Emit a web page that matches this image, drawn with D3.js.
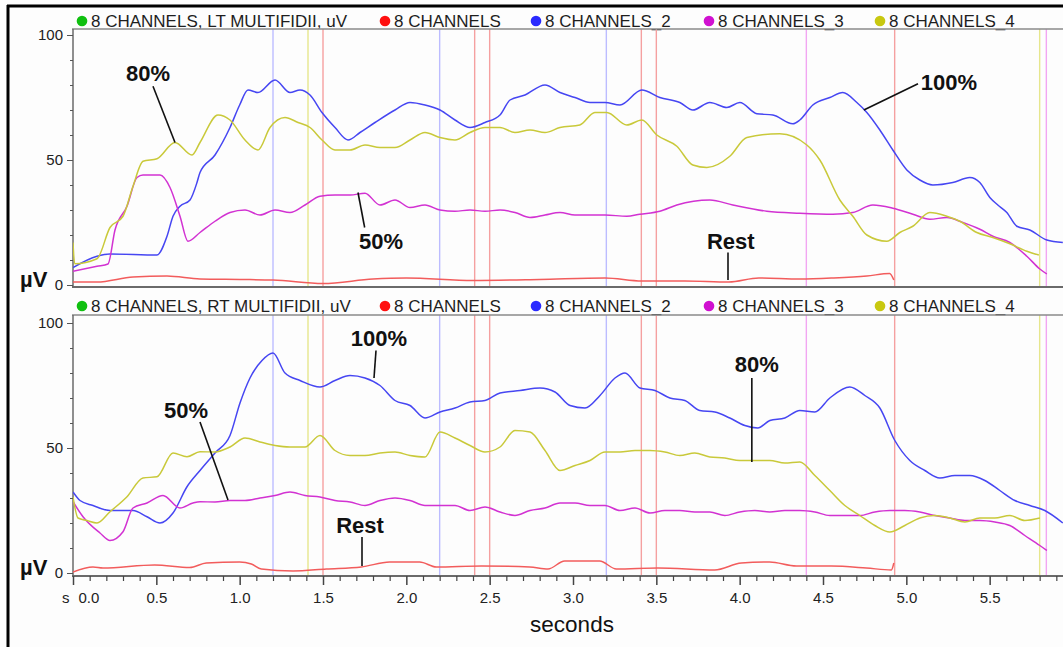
<!DOCTYPE html>
<html><head><meta charset="utf-8">
<script src="https://cdn.jsdelivr.net/npm/d3@7"></script>
<style>body{margin:0;background:#fff}svg{display:block}</style>
</head><body><svg id="c" width="1063" height="647"></svg>
<script>
// ---------------- DATA ----------------
const xTicks = [0, 0.5, 1.0, 1.5, 2.0, 2.5, 3.0, 3.5, 4.0, 4.5, 5.0, 5.5];
const yTicks = [0, 50, 100];
const legendTop = ["8 CHANNELS, LT MULTIFIDII, uV", "8 CHANNELS", "8 CHANNELS_2", "8 CHANNELS_3", "8 CHANNELS_4"];
const legendBottom = ["8 CHANNELS, RT MULTIFIDII, uV", "8 CHANNELS", "8 CHANNELS_2", "8 CHANNELS_3", "8 CHANNELS_4"];

// event markers (seconds)
const markersBlue = [1.2, 2.2, 3.2];
const markersYellow = [1.41, 5.8];
const markersRed = [1.5, 2.41, 2.5, 3.41, 3.5, 4.93];
const markersPink = [4.4, 5.84];

// LT multifidii  [seconds, uV]
const ltRed = [[0,1.2],[0.144,1.2],[0.36,3.2],[0.564,3.6],[0.762,2.4],[1.0,2.2],[1.2,2],[1.5,0.6],[1.8,2.4],[2.0,2.8],[2.4,1.8],[2.8,2.2],[3.192,2.8],[3.413,1.6],[3.671,1.6],[3.935,1.2],[4.115,2.8],[4.361,2.4],[4.559,2.8],[4.763,3.6],[4.9,4.6],[4.925,2.0]];
const ltBlue = [[0,7],[0.144,11.5],[0.222,12.4],[0.504,12],[0.564,19.5],[0.6,27.5],[0.642,31.5],[0.702,34],[0.744,41],[0.762,45],[0.852,52],[0.942,63],[1.0,72],[1.05,78],[1.11,77],[1.212,82],[1.302,77],[1.362,78],[1.422,76],[1.494,69],[1.572,63],[1.65,58],[1.722,61],[1.812,65],[1.932,70],[2.022,73],[2.112,72],[2.202,70],[2.292,66],[2.382,63],[2.472,65],[2.562,68],[2.622,74],[2.712,76],[2.832,80],[2.922,77],[3.012,75],[3.102,73],[3.192,73],[3.282,72],[3.413,78],[3.521,75],[3.641,73],[3.719,70],[3.821,73],[3.923,71],[4.001,73],[4.103,68.5],[4.199,68],[4.319,64.5],[4.361,66],[4.439,72],[4.541,75],[4.619,77],[4.703,73],[4.763,69],[4.841,62],[4.919,54],[5.003,46],[5.081,42],[5.159,40],[5.279,41],[5.381,43],[5.441,41],[5.501,35],[5.549,32],[5.603,29],[5.663,23.5],[5.741,22],[5.843,18],[5.939,17]];
const ltMagenta = [[0,5.5],[0.144,7.5],[0.21,8.4],[0.252,22],[0.324,31.5],[0.384,43],[0.42,44],[0.522,44],[0.582,39],[0.642,27.5],[0.69,17.5],[0.762,21],[0.852,25.5],[0.942,29],[1.032,30],[1.122,28],[1.212,30],[1.302,29],[1.392,32],[1.482,35.5],[1.572,36],[1.662,36],[1.752,36.7],[1.842,32],[1.932,34],[2.022,31],[2.112,32],[2.202,30],[2.292,29.5],[2.382,30],[2.472,29.5],[2.562,30],[2.652,29],[2.742,27],[2.832,28],[2.922,29],[3.012,28],[3.102,28],[3.192,28],[3.323,27.5],[3.401,28.3],[3.521,29.5],[3.623,32],[3.821,34],[3.959,32],[4.163,29.5],[4.361,28.7],[4.559,28.3],[4.679,29],[4.799,32],[4.919,30.7],[5.039,28.3],[5.141,26.3],[5.243,27],[5.339,25],[5.441,22.3],[5.519,19.5],[5.621,17],[5.723,11.5],[5.801,6.4],[5.843,4.4]];
const ltYellow = [[0,17],[0.01,8.5],[0.144,10.5],[0.222,23],[0.3,27.5],[0.36,39.5],[0.42,49.5],[0.504,50.5],[0.612,57],[0.714,52],[0.762,57],[0.87,68],[0.942,66],[1.032,58],[1.11,54],[1.182,63],[1.272,67],[1.35,65],[1.422,63],[1.494,58],[1.572,54],[1.662,54],[1.752,56],[1.842,55],[1.932,55],[2.022,58],[2.112,61],[2.202,59],[2.292,58],[2.382,61],[2.472,63],[2.562,63],[2.652,61],[2.742,62],[2.832,61],[2.922,63],[3.041,64],[3.131,69],[3.203,69],[3.323,64],[3.413,66],[3.503,60],[3.623,55.5],[3.719,48],[3.803,47],[3.941,51.5],[4.043,59],[4.241,60.5],[4.403,56],[4.481,50],[4.601,34],[4.679,27.5],[4.763,20],[4.883,17.5],[4.961,21],[5.039,23.5],[5.141,29],[5.243,27.5],[5.321,25.5],[5.423,21],[5.519,19],[5.621,16.5],[5.723,13.5],[5.795,12]];

// RT multifidii  [seconds, uV]
const rtRed = [[0,0.4],[0.12,2.4],[0.18,2],[0.49,3.2],[0.7,2.2],[0.8,4],[1.0,4.4],[1.07,3.6],[1.13,1.6],[1.32,0.8],[1.52,1.6],[1.73,2.4],[1.9,4.4],[2.08,4.4],[2.18,2.4],[2.45,2.8],[2.74,2.4],[2.85,1.6],[2.95,4.8],[3.16,4.8],[3.26,1.6],[3.51,2],[3.85,1.2],[4.01,4],[4.18,4.4],[4.34,2.8],[4.55,2.8],[4.76,2],[4.91,1.2],[4.925,4]];
const rtBlue = [[0,32.4],[0.042,29],[0.12,27],[0.222,25],[0.36,25],[0.444,22.5],[0.522,20],[0.6,24],[0.684,34.5],[0.762,41],[0.852,48],[0.942,55],[1.002,68],[1.062,78],[1.134,85],[1.2,88],[1.272,80],[1.362,77],[1.482,74.4],[1.572,77],[1.662,79],[1.752,78],[1.842,75],[1.932,69],[2.022,67],[2.112,62],[2.202,64.4],[2.292,66],[2.382,68.4],[2.472,69],[2.562,72],[2.682,73],[2.802,74],[2.892,72.4],[2.982,67],[3.072,66],[3.162,71],[3.252,78],[3.312,80],[3.402,74],[3.492,73],[3.581,70],[3.671,69],[3.761,65],[3.851,64.4],[3.941,62],[4.031,59],[4.109,58],[4.181,61],[4.271,62],[4.361,65],[4.451,64.4],[4.541,70],[4.661,74.4],[4.751,71],[4.841,66],[4.931,53],[5.021,45],[5.111,41],[5.201,38],[5.291,39],[5.381,39],[5.471,37],[5.561,33],[5.651,29],[5.741,27],[5.831,25],[5.939,20]];
const rtMagenta = [[0,28.5],[0.06,22.5],[0.162,16],[0.222,13],[0.3,16.5],[0.36,26],[0.444,28],[0.54,31],[0.642,26],[0.72,28],[0.762,28.5],[0.852,28.4],[0.942,29],[1.032,29],[1.122,30],[1.212,31],[1.302,32.4],[1.392,31],[1.482,30.4],[1.572,29],[1.662,28.4],[1.752,27],[1.842,29],[1.932,30],[2.022,29],[2.112,27],[2.202,27],[2.292,27],[2.382,25],[2.472,26.4],[2.562,24.4],[2.652,23],[2.742,25],[2.832,26],[2.922,28],[3.012,28],[3.102,27],[3.192,27],[3.282,25],[3.372,26],[3.462,24],[3.551,25],[3.641,25],[3.731,24.4],[3.821,24.4],[3.911,23],[4.001,24.4],[4.091,25],[4.181,24.4],[4.271,25],[4.361,25],[4.451,24.4],[4.541,23],[4.631,23],[4.721,23],[4.811,24.4],[4.901,25],[4.991,25],[5.081,24.4],[5.171,23],[5.261,22],[5.351,21],[5.441,21],[5.531,20.4],[5.621,19],[5.711,15],[5.801,11],[5.843,9]];
const rtYellow = [[0,30.4],[0.03,22],[0.084,21],[0.144,20],[0.222,24.5],[0.324,30.5],[0.42,38],[0.504,38.5],[0.6,48],[0.684,46.5],[0.762,48.5],[0.852,48.4],[0.942,50.4],[1.032,54],[1.122,52.4],[1.212,51],[1.302,50.4],[1.392,50.4],[1.482,55],[1.572,49],[1.662,47],[1.752,47],[1.842,48],[1.932,48.4],[2.022,47],[2.112,46.4],[2.202,56.4],[2.292,54],[2.382,51],[2.472,48.4],[2.562,50.4],[2.652,57],[2.742,56.4],[2.832,49],[2.922,41],[3.012,43],[3.102,45],[3.192,48.4],[3.282,48.4],[3.372,49],[3.462,49],[3.551,48.4],[3.641,47],[3.731,48],[3.821,46.4],[3.911,46],[4.001,45],[4.091,45],[4.181,45],[4.271,44],[4.361,44.4],[4.451,39],[4.541,33],[4.631,27],[4.721,23],[4.811,19],[4.901,16.4],[4.991,19],[5.081,22],[5.171,23],[5.261,22],[5.351,20.4],[5.441,22],[5.531,22],[5.621,23],[5.711,21],[5.801,22]];

// annotations: label, label anchor [s,uV], leader from [s,uV] to [s,uV]
const annTop = [
  {text:"80%",  at:[0.45,81.5],  from:[0.48,79.5], to:[0.612,57]},
  {text:"50%",  at:[1.848,14.5], from:[1.75,23],   to:[1.71,37]},
  {text:"100%", at:[5.255,78],   from:[5.07,80.5], to:[4.745,70]},
  {text:"Rest", at:[3.947,14.5], from:[3.93,13],   to:[3.93,2]}
];
const annBottom = [
  {text:"100%", at:[1.836,90.8], from:[1.818,89],  to:[1.806,78]},
  {text:"50%",  at:[0.678,62],   from:[0.762,60.4],to:[0.93,29.2]},
  {text:"80%",  at:[4.103,80.4], from:[4.073,78],  to:[4.073,44.4]},
  {text:"Rest", at:[1.722,16],   from:[1.734,14.4],to:[1.734,2.8]}
];

// ---------------- LAYOUT / STYLE ----------------
const FONT = "'Liberation Sans', Arial, Helvetica, sans-serif";
const C = {blue:"#4646f2", magenta:"#d232d2", yellow:"#c9c93a", red:"#f25c5c"};
const DOT = ["#10c010", "#ff1010", "#2a2aff", "#d010d0", "#c8c810"];
const legendX = [82, 385, 536, 709, 880];
const svg = d3.select("#c");
svg.append("rect").attr("width",1063).attr("height",647).attr("fill","#fdfdfd");

const x = d3.scaleLinear().domain([0, 5.94]).range([73, 1063]);

const panels = [
  {top:29, y0:285, y100:35, bottom:287, legBase:27, dotY:21, legend:legendTop,
   series:[ltRed, ltBlue, ltMagenta, ltYellow], ann:annTop, xaxis:false},
  {top:315, y0:573, y100:323, bottom:576, legBase:312, dotY:306, legend:legendBottom,
   series:[rtRed, rtBlue, rtMagenta, rtYellow], ann:annBottom, xaxis:true}
];
const seriesColors = [C.red, C.blue, C.magenta, C.yellow];

panels.forEach((p, i) => {
  const y = d3.scaleLinear().domain([0, 100]).range([p.y0, p.y100]);
  const g = svg.append("g");
  const clipId = "clip" + i;
  svg.append("clipPath").attr("id", clipId).append("rect")
    .attr("x", 73).attr("y", p.top).attr("width", 1063 - 73).attr("height", p.bottom - p.top);

  // legend
  const lg = g.append("g");
  p.legend.forEach((name, k) => {
    lg.append("circle").attr("cx", legendX[k]).attr("cy", p.dotY).attr("r", 5.3).attr("fill", DOT[k]);
    lg.append("text").attr("x", legendX[k] + 9).attr("y", p.legBase).text(name)
      .attr("font-family", FONT).attr("font-size", 17).attr("fill", "#1e1e1e");
  });

  // markers
  const mk = g.append("g").attr("clip-path", `url(#${clipId})`);
  const addMarkers = (arr, col) => arr.forEach(t => {
    mk.append("line").attr("x1", x(t)).attr("x2", x(t)).attr("y1", p.top).attr("y2", p.bottom)
      .attr("stroke", col).attr("stroke-width", 1.4);
  });
  addMarkers(markersBlue, "#bcbcff");
  addMarkers(markersYellow, "#e6e68c");
  addMarkers(markersRed, "#f5a0a0");
  addMarkers(markersPink, "#f2a6f2");

  // frame lines
  g.append("line").attr("x1", 72).attr("x2", 1063).attr("y1", p.top).attr("y2", p.top)
    .attr("stroke", "#8a8a8a").attr("stroke-width", 1.5);
  g.append("line").attr("x1", 72).attr("x2", 1063).attr("y1", p.bottom).attr("y2", p.bottom)
    .attr("stroke", "#6a6a6a").attr("stroke-width", 2);
  g.append("line").attr("x1", 73).attr("x2", 73).attr("y1", p.top).attr("y2", p.bottom)
    .attr("stroke", "#6a6a6a").attr("stroke-width", 1.5);

  // y axis
  const ya = g.append("g").attr("transform", "translate(73,0)")
    .call(d3.axisLeft(y).tickValues(yTicks).tickSize(6).tickPadding(4));
  ya.select(".domain").remove();
  ya.selectAll("line").attr("stroke", "#555");
  ya.selectAll("text").attr("font-family", FONT).attr("font-size", 15).attr("fill", "#222");
  const ym = g.append("g").attr("transform", "translate(73,0)")
    .call(d3.axisLeft(y).tickValues(d3.range(10, 100, 10).filter(v => v !== 50)).tickSize(3).tickFormat(""));
  ym.select(".domain").remove();
  ym.selectAll("line").attr("stroke", "#555");

  g.append("text").attr("x", 20).attr("y", p.y0 + 2).text("µV")
    .attr("font-family", FONT).attr("font-size", 22).attr("font-weight", "bold").attr("fill", "#111");

  // curves
  const line = d3.line().x(d => x(d[0])).y(d => y(d[1])).curve(d3.curveMonotoneX);
  const cg = g.append("g").attr("clip-path", `url(#${clipId})`);
  p.series.forEach((s, k) => {
    cg.append("path").attr("d", line(s)).attr("fill", "none")
      .attr("stroke", seriesColors[k]).attr("stroke-width", 1.5).attr("stroke-linejoin", "round");
  });

  // annotations
  p.ann.forEach(a => {
    g.append("line").attr("x1", x(a.from[0])).attr("y1", y(a.from[1]))
      .attr("x2", x(a.to[0])).attr("y2", y(a.to[1]))
      .attr("stroke", "#111").attr("stroke-width", 1.6);
    g.append("text").attr("x", x(a.at[0])).attr("y", y(a.at[1])).text(a.text)
      .attr("text-anchor", "middle").attr("font-family", FONT).attr("font-size", 22)
      .attr("font-weight", "bold").attr("fill", "#111");
  });

  // x axis
  if (p.xaxis) {
    const xa = g.append("g").attr("transform", `translate(0,${p.bottom})`)
      .call(d3.axisBottom(x).tickValues(xTicks).tickSize(9).tickPadding(7).tickFormat(d3.format(".1f")));
    xa.select(".domain").remove();
    xa.selectAll("line").attr("stroke", "#444").attr("stroke-width", 1.5);
    xa.selectAll("text").attr("font-family", FONT).attr("font-size", 15).attr("fill", "#222");
    xa.selectAll("text").filter(d => d === 0).attr("text-anchor", "start").attr("dx", 5);
    const minor = d3.range(1, 60).map(v => v / 10).filter(v => Math.abs(v * 2 - Math.round(v * 2)) > 1e-6);
    const xm = g.append("g").attr("transform", `translate(0,${p.bottom})`)
      .call(d3.axisBottom(x).tickValues(minor).tickSize(5).tickFormat(""));
    xm.select(".domain").remove();
    xm.selectAll("line").attr("stroke", "#444").attr("stroke-width", 1.2);
    g.append("text").attr("x", 62).attr("y", p.bottom + 27).text("s")
      .attr("font-family", FONT).attr("font-size", 15).attr("fill", "#222");
    g.append("text").attr("x", 572).attr("y", 632).text("seconds").attr("text-anchor", "middle")
      .attr("font-family", FONT).attr("font-size", 22.5).attr("fill", "#111");
  }
});

// outer black frame (top & left)
svg.append("line").attr("x1", 7).attr("x2", 1063).attr("y1", 6).attr("y2", 6).attr("stroke", "#000").attr("stroke-width", 3);
svg.append("line").attr("x1", 8).attr("x2", 8).attr("y1", 5).attr("y2", 647).attr("stroke", "#000").attr("stroke-width", 3);
</script></body></html>
